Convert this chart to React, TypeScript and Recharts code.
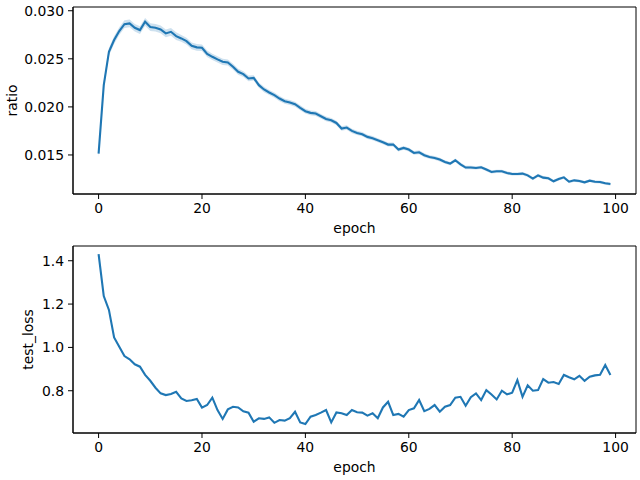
import React from 'react';
import { ComposedChart, LineChart, Line, Area, XAxis, YAxis, ReferenceArea } from 'recharts';

// epochs 0..99
const epochs: number[] = Array.from({ length: 100 }, (_, i) => i);

// mean ratio per epoch (top panel)
const ratio: number[] = [
  0.01514, 0.02226, 0.02573, 0.02695, 0.02789, 0.02861, 0.02869, 0.02823, 0.02799, 0.02885,
  0.0283, 0.02823, 0.02806, 0.02764, 0.02781, 0.02736, 0.02712, 0.02684, 0.02635, 0.02619,
  0.02615, 0.02552, 0.02521, 0.02494, 0.02469, 0.02462, 0.02417, 0.02365, 0.02341, 0.02296,
  0.02302, 0.02226, 0.02181, 0.0215, 0.02122, 0.02087, 0.02059, 0.02046, 0.02028, 0.0199,
  0.01955, 0.01938, 0.01931, 0.01903, 0.01875, 0.01861, 0.01833, 0.01775, 0.01785, 0.0175,
  0.01729, 0.01716, 0.01688, 0.01674, 0.01653, 0.01632, 0.01608, 0.01608, 0.01556, 0.01573,
  0.01556, 0.01521, 0.01528, 0.01497, 0.01479, 0.01469, 0.01452, 0.01427, 0.0141, 0.01445,
  0.01403, 0.01369, 0.01369, 0.01365, 0.01372, 0.01348, 0.01323, 0.0133, 0.0133, 0.01313,
  0.01302, 0.01302, 0.01306, 0.01288, 0.01254, 0.01288, 0.01264, 0.01257, 0.01226, 0.0125,
  0.01267, 0.01222, 0.01236, 0.01229, 0.01215, 0.01233, 0.01222, 0.01219, 0.01205, 0.01198,
];

// half width of the shaded confidence band around ratio
const ratioCi: number[] = [
  0.0004, 0.0004, 0.0004, 0.0004, 0.0004, 0.0004, 0.0004, 0.0004, 0.0004, 0.0004,
  0.0004, 0.0004, 0.0004, 0.0004, 0.0004, 0.0004, 0.00035, 0.00035, 0.00035, 0.00035,
  0.00034, 0.00034, 0.00033, 0.00033, 0.00032, 0.00032, 0.00031, 0.00031, 0.0003, 0.0003,
  0.00028, 0.00028, 0.00028, 0.00027, 0.00027, 0.00027, 0.00026, 0.00026, 0.00026, 0.00026,
  0.00025, 0.00025, 0.00025, 0.00024, 0.00024, 0.00024, 0.00023, 0.00023, 0.00023, 0.00023,
  0.00022, 0.00022, 0.00022, 0.00022, 0.00021, 0.00021, 0.00021, 0.00021, 0.0002, 0.0002,
  0.0002, 0.0002, 0.0002, 0.0002, 0.00019, 0.00019, 0.00019, 0.00019, 0.00018, 0.00018,
  0.00018, 0.00018, 0.00018, 0.00017, 0.00017, 0.00017, 0.00017, 0.00017, 0.00017, 0.00017,
  0.00016, 0.00016, 0.00016, 0.00016, 0.00016, 0.00016, 0.00016, 0.00016, 0.00016, 0.00016,
  0.00015, 0.00015, 0.00015, 0.00015, 0.00015, 0.00015, 0.00015, 0.00015, 0.00015, 0.00015,
];

// test loss per epoch (bottom panel)
const testLoss: number[] = [
  1.431, 1.237, 1.173, 1.046, 1.003, 0.96, 0.945, 0.922, 0.911, 0.873,
  0.846, 0.814, 0.788, 0.78, 0.785, 0.795, 0.765, 0.753, 0.756, 0.762,
  0.722, 0.734, 0.768, 0.711, 0.67, 0.714, 0.726, 0.723, 0.705, 0.699,
  0.657, 0.673, 0.67, 0.677, 0.652, 0.665, 0.662, 0.673, 0.703, 0.654,
  0.646, 0.68, 0.688, 0.699, 0.711, 0.654, 0.7, 0.696, 0.688, 0.711,
  0.701, 0.699, 0.685, 0.696, 0.673, 0.723, 0.749, 0.688, 0.693, 0.68,
  0.711, 0.719, 0.757, 0.706, 0.716, 0.734, 0.703, 0.726, 0.734, 0.768,
  0.772, 0.731, 0.77, 0.788, 0.757, 0.803, 0.783, 0.76, 0.8, 0.783,
  0.791, 0.849, 0.772, 0.825, 0.8, 0.803, 0.854, 0.837, 0.84, 0.831,
  0.873, 0.862, 0.853, 0.869, 0.846, 0.865, 0.871, 0.874, 0.919, 0.873,
];

const xTicks = [0, 20, 40, 60, 80, 100];
const ratioTicks = [0.015, 0.02, 0.025, 0.03];
const lossTicks = [0.8, 1.0, 1.2, 1.4];

const X_DOMAIN: [number, number] = [-4.95, 103.95];
const RATIO_DOMAIN: [number, number] = [0.01094, 0.03039];
const LOSS_DOMAIN: [number, number] = [0.605, 1.468];

const BLUE = '#1f77b4';
const FONT = 'DejaVu Sans';
const tickStyle = { fill: '#000', fontSize: 13.9, fontFamily: FONT };
const labelStyle = { fill: '#000', fontSize: 13.9, fontFamily: FONT, textAnchor: 'middle' as const };

const rows = epochs.map((e, i) => ({
  epoch: e,
  ratio: ratio[i],
  band: [ratio[i] - ratioCi[i], ratio[i] + ratioCi[i]],
  loss: testLoss[i],
}));

export default function App() {
  return (
    <div style={{ position: 'absolute', left: 0, top: 0, width: 640, height: 480, background: '#fff' }}>
      <ComposedChart width={640} height={240} data={rows} margin={{ top: 7, right: 4, bottom: 0, left: 0 }}>
        <XAxis
          dataKey="epoch"
          type="number"
          domain={X_DOMAIN}
          ticks={xTicks}
          allowDataOverflow
          height={46}
          axisLine={{ stroke: '#000' }}
          tickLine={{ stroke: '#000' }}
          tickSize={5}
          tickMargin={4}
          tick={tickStyle}
          label={{ value: 'epoch', position: 'insideBottom', offset: 7, style: labelStyle }}
        />
        <YAxis
          type="number"
          domain={RATIO_DOMAIN}
          ticks={ratioTicks}
          allowDataOverflow
          width={73}
          axisLine={{ stroke: '#000' }}
          tickLine={{ stroke: '#000' }}
          tickSize={5}
          tickMargin={4}
          tick={tickStyle}
          tickFormatter={(v: number) => v.toFixed(3)}
          label={{ value: 'ratio', angle: -90, position: 'insideLeft', offset: 12, style: labelStyle }}
        />
        <Area
          dataKey="band"
          type="linear"
          stroke="none"
          fill={BLUE}
          fillOpacity={0.22}
          isAnimationActive={false}
        />
        <Line dataKey="ratio" type="linear" stroke={BLUE} strokeWidth={2.1} dot={false} isAnimationActive={false} />
        <ReferenceArea
          x1={X_DOMAIN[0]}
          x2={X_DOMAIN[1]}
          y1={RATIO_DOMAIN[0]}
          y2={RATIO_DOMAIN[1]}
          fill="none"
          stroke="#000"
          strokeWidth={1}
        />
      </ComposedChart>
      <LineChart width={640} height={240} data={rows} margin={{ top: 6, right: 4, bottom: 0, left: 0 }}>
        <XAxis
          dataKey="epoch"
          type="number"
          domain={X_DOMAIN}
          ticks={xTicks}
          allowDataOverflow
          height={47}
          axisLine={{ stroke: '#000' }}
          tickLine={{ stroke: '#000' }}
          tickSize={5}
          tickMargin={4}
          tick={tickStyle}
          label={{ value: 'epoch', position: 'insideBottom', offset: 8, style: labelStyle }}
        />
        <YAxis
          type="number"
          domain={LOSS_DOMAIN}
          ticks={lossTicks}
          allowDataOverflow
          width={73}
          axisLine={{ stroke: '#000' }}
          tickLine={{ stroke: '#000' }}
          tickSize={5}
          tickMargin={4}
          tick={tickStyle}
          tickFormatter={(v: number) => v.toFixed(1)}
          label={{ value: 'test_loss', angle: -90, position: 'insideLeft', offset: 28, style: labelStyle }}
        />
        <Line dataKey="loss" type="linear" stroke={BLUE} strokeWidth={2.1} dot={false} isAnimationActive={false} />
        <ReferenceArea
          x1={X_DOMAIN[0]}
          x2={X_DOMAIN[1]}
          y1={LOSS_DOMAIN[0]}
          y2={LOSS_DOMAIN[1]}
          fill="none"
          stroke="#000"
          strokeWidth={1}
        />
      </LineChart>
    </div>
  );
}
